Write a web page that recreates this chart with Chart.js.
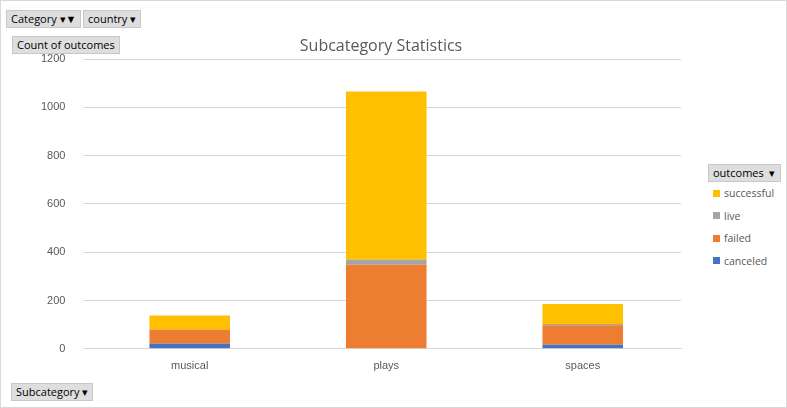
<!DOCTYPE html>
<html>
<head>
<meta charset="utf-8">
<script src="https://cdn.jsdelivr.net/npm/chart.js"></script>
<style>
  body { margin: 0; background: #fff; font-family: "Segoe UI", "Open Sans", sans-serif; }
  #wrap { position: relative; width: 785px; height: 406px; border: 1px solid #d9d9d9; }
  #box { position: absolute; left: 0; top: 0; width: 700px; height: 406px; }
  .btn { position: absolute; background: #dedede; border: 1px solid #c8c8c8; font-size: 11px; color: #000; padding: 1px 4px; line-height: 14px; }
  #title { position: absolute; left: 230px; width: 300px; top: 33px; text-align: center; font-size: 16px; color: #595959; }
  #legend { position: absolute; left: 707px; top: 163px; font-size: 10.5px; color: #595959; }
  #legend .row { display: flex; align-items: center; height: 22.5px; padding-left: 5px; }
  #legend .sw { width: 7px; height: 7px; margin-right: 4px; }
</style>
</head>
<body>
<div id="wrap">
  <div id="box"><canvas id="c"></canvas></div>
  <div id="title">Subcategory Statistics</div>
  <div class="btn" style="left:5px;top:9px;">Category ▾▼</div>
  <div class="btn" style="left:82px;top:9px;">country ▾</div>
  <div class="btn" style="left:11px;top:35px;">Count of outcomes</div>
  <div class="btn" style="left:10px;top:382px;">Subcategory ▾</div>
  <div id="legend">
    <div class="btn" style="position:relative;left:0;top:0;color:#000;">outcomes &nbsp;▾</div>
    <div id="rows" style="margin-top:0px"></div>
  </div>
</div>
<script>
const subcategories = ['musical', 'plays', 'spaces'];
const canceled = [21, 0, 17];
const failed = [59, 348, 80];
const live = [0, 21, 6];
const successful = [58, 696, 83];

const series = [
  { label: 'canceled', data: canceled, color: '#4472c4' },
  { label: 'failed', data: failed, color: '#ed7d31' },
  { label: 'live', data: live, color: '#a5a5a5' },
  { label: 'successful', data: successful, color: '#ffc000' }
];

// 凡例（上から successful → canceled）
const rows = document.getElementById('rows');
[...series].reverse().forEach(s => {
  const r = document.createElement('div');
  r.className = 'row';
  r.innerHTML = `<span class="sw" style="background:${s.color}"></span>${s.label}`;
  rows.appendChild(r);
});

const canvas = document.getElementById('c');
canvas.width = 700; canvas.height = 406;

new Chart(canvas, {
  type: 'bar',
  data: {
    labels: subcategories,
    datasets: series.map(s => ({
      label: s.label,
      data: s.data,
      backgroundColor: s.color,
      barPercentage: 1,
      categoryPercentage: 0.41
    }))
  },
  options: {
    responsive: false,
    animation: false,
    layout: { padding: { left: 22, right: 20, top: 58, bottom: 31 } },
    plugins: {
      legend: { display: false },
      tooltip: { enabled: false }
    },
    scales: {
      x: {
        stacked: true,
        grid: { display: false },
        border: { color: '#d9d9d9' },
        ticks: { color: '#595959', font: { size: 11 } }
      },
      y: {
        stacked: true,
        min: 0, max: 1200,
        ticks: { stepSize: 200, color: '#595959', font: { size: 11 }, padding: 18, callback: v => String(v) },
        grid: { color: '#d9d9d9' },
        border: { display: false }
      }
    }
  }
});
</script>
</body>
</html>
